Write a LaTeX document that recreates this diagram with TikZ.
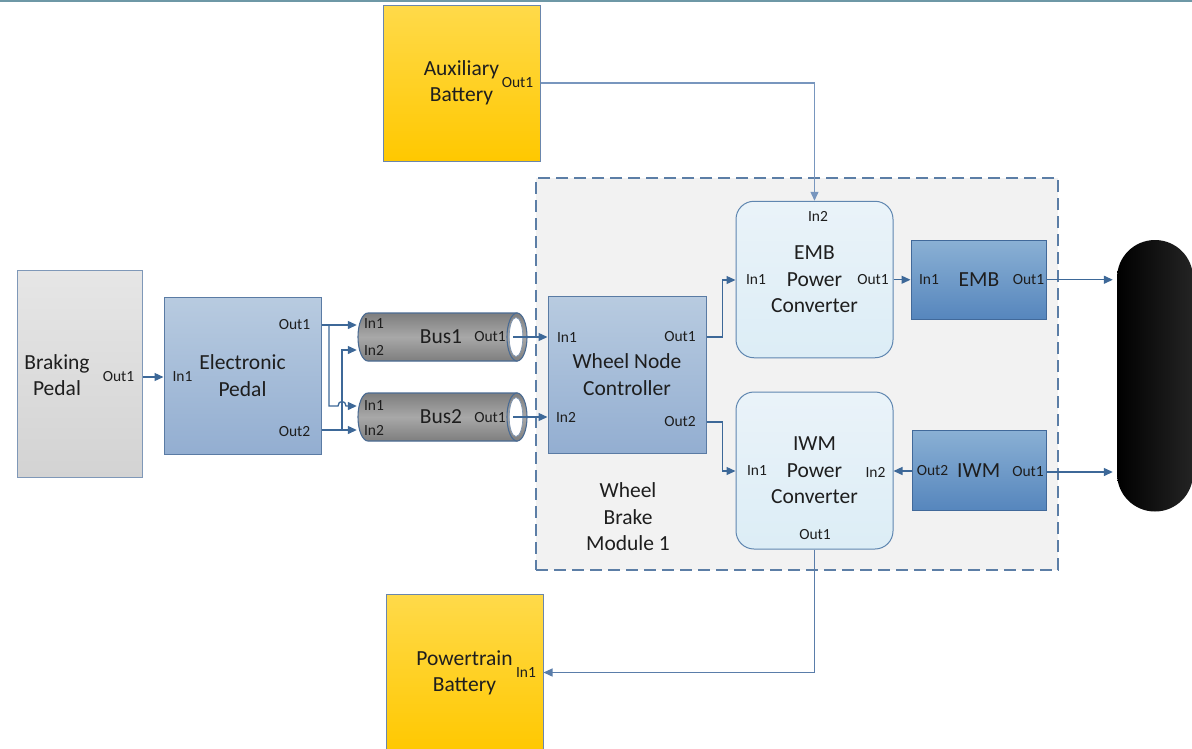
\documentclass[tikz,border=0pt]{standalone}
\usepackage{fontspec}
\setmainfont{Carlito}
\usetikzlibrary{arrows.meta,calc}
\definecolor{linec}{HTML}{3D6898}
\definecolor{linel}{HTML}{7896BE}
\definecolor{linem}{HTML}{5A7DAA}
\definecolor{txt}{HTML}{1E1E1E}
\definecolor{topline}{HTML}{6E98A6}
\definecolor{bpborder}{HTML}{7F98B8}
\definecolor{bptop}{HTML}{E6E6E6}
\definecolor{bpbot}{HTML}{D3D3D3}
\definecolor{ltborder}{HTML}{5A7BA4}
\definecolor{lttop}{HTML}{B8CBE0}
\definecolor{ltbot}{HTML}{93AED1}
\definecolor{dkborder}{HTML}{41699A}
\definecolor{dktop}{HTML}{8AB0D4}
\definecolor{dkbot}{HTML}{5686BD}
\definecolor{pcborder}{HTML}{5F86B0}
\definecolor{pctop}{HTML}{EAF3F9}
\definecolor{pcbot}{HTML}{DCEDF6}
\definecolor{battop}{HTML}{FFDA4A}
\definecolor{batbot}{HTML}{FFC800}
\definecolor{batborder}{HTML}{6A86AC}
\definecolor{modborder}{HTML}{5C7EA6}
\definecolor{modfill}{HTML}{F2F2F2}
\definecolor{busborder}{HTML}{4A6B93}
\definecolor{busdark}{HTML}{7E7E7E}
\definecolor{buslight}{HTML}{A8A8A8}
\newcommand\drawbus[2]{%
  \node[minimum width=170pt, minimum height=48pt, inner sep=0pt] (#1) at (442,#2) {};
  \path[draw=busborder, line width=1.1pt, top color=busdark, bottom color=busdark, middle color=buslight]
    (368,#2-24) -- (517,#2-24) -- (517,#2+24) -- (368,#2+24)
    .. controls (362.5,#2+24) and (358,#2+13.3) .. (358,#2)
    .. controls (358,#2-13.3) and (362.5,#2-24) .. (368,#2-24) -- cycle;
  \path[draw=busborder, line width=1.1pt, top color=busdark, bottom color=busdark, middle color=buslight]
    (517,#2) ellipse [x radius=10, y radius=24];
  \path[fill=white, draw=busborder!70, line width=0.7pt] (516,#2) ellipse [x radius=6.8, y radius=19.5];
}
\begin{document}
\begin{tikzpicture}[x=1pt, y=-1pt,
  big/.style={font=\fontsize{21.5}{26.5}\selectfont, text=txt, align=center, inner sep=0pt},
  port/.style={font=\fontsize{15.5}{18}\selectfont, text=txt, inner sep=0pt},
  conn/.style={draw=linec, line width=1.3pt, -{Triangle[length=9pt,width=8pt]}},
  ltbox/.style={draw=ltborder, line width=1pt, top color=lttop, bottom color=ltbot, inner sep=0pt},
  dkbox/.style={draw=dkborder, line width=1pt, top color=dktop, bottom color=dkbot, inner sep=0pt},
  pcbox/.style={draw=pcborder, line width=1pt, rounded corners=18pt, top color=pctop, bottom color=pcbot, inner sep=0pt},
  batbox/.style={draw=batborder, line width=1pt, top color=battop, bottom color=batbot, inner sep=0pt},
]
\useasboundingbox (0,0) rectangle (1192,748);
\fill[white] (0,0) rectangle (1192,748);
\draw[topline, line width=1.5pt] (0,0.75) -- (1192,0.75);

% module background
\node[draw=modborder, dash pattern=on 12pt off 6pt, line width=1.1pt, fill=modfill,
      minimum width=522pt, minimum height=392pt, inner sep=0pt] (mod) at (797,374) {};
\node[big] (modtxt) at (628,517) {Wheel\\Brake\\Module 1};

% braking pedal
\node[draw=bpborder, line width=1pt, top color=bptop, bottom color=bpbot, minimum width=125pt, minimum height=207pt, inner sep=0pt] (bp) at (79.5,373.5) {};
\node[big] (bptxt) at (57,375) {Braking\\Pedal};
\node[port] (bpo1) at (118.5,377) {Out1};

% electronic pedal
\node[ltbox, minimum width=157pt, minimum height=157pt, big] (ep) at (242.5,375.5) {Electronic\\Pedal};
\node[port] (epi1) at (182.5,376.5) {In1};
\node[port] (epo1) at (294.5,325) {Out1};
\node[port] (epo2) at (294.5,432) {Out2};

% buses
\drawbus{bus1}{337}
\drawbus{bus2}{417}
\node[big] (bus1txt) at (441,337) {Bus1};
\node[big] (bus2txt) at (441,417) {Bus2};
\node[port] (b1i1) at (374,324) {In1};
\node[port] (b1i2) at (374,350) {In2};
\node[port] (b1o1) at (490,337) {Out1};
\node[port] (b2i1) at (374,406) {In1};
\node[port] (b2i2) at (374,430) {In2};
\node[port] (b2o1) at (490,418) {Out1};

% wheel node controller
\node[ltbox, minimum width=158pt, minimum height=157pt, big] (wnc) at (627,374.5) {Wheel Node\\Controller};
\node[port] (wi1) at (567,338) {In1};
\node[port] (wi2) at (566,417) {In2};
\node[port] (wo1) at (680,337) {Out1};
\node[port] (wo2) at (680,422) {Out2};

% power converters
\node[pcbox, minimum width=157pt, minimum height=156.5pt, big] (embpc) at (814.5,279.5) {EMB\\Power\\Converter};
\node[port] (ei2) at (818,216) {In2};
\node[port] (ei1) at (756,280) {In1};
\node[port] (eo1) at (873,280) {Out1};
\node[pcbox, minimum width=157pt, minimum height=157pt, big] (iwmpc) at (814.5,470.5) {IWM\\Power\\Converter};
\node[port] (ii1) at (757,471) {In1};
\node[port] (ii2) at (875.5,472) {In2};
\node[port] (io1) at (815,534.5) {Out1};

% EMB and IWM
\node[dkbox, minimum width=135.5pt, minimum height=78.5pt] (emb) at (978.75,279.75) {};
\node[big] (embtxt) at (979,280) {EMB};
\node[port] (embi1) at (929,280) {In1};
\node[port] (embo1) at (1028.5,280) {Out1};
\node[dkbox, minimum width=134pt, minimum height=80pt] (iwm) at (979.7,470) {};
\node[big] (iwmtxt) at (978.7,471) {IWM};
\node[port] (iwmo2) at (932.5,471) {Out2};
\node[port] (iwmo1) at (1028,472) {Out1};

% wheel
\node[rounded corners=38pt, left color=black, right color=black!86, minimum width=76pt, minimum height=271.5pt, inner sep=0pt] (wheel) at (1155,375.75) {};

% batteries
\node[batbox, minimum width=157pt, minimum height=156pt, big] (aux) at (461.5,83) {Auxiliary\\Battery};
\node[port] (auxo1) at (517.5,83) {Out1};
\node[batbox, minimum width=157pt, minimum height=158pt, big] (pt) at (464.5,673) {Powertrain\\Battery};
\node[port] (pti1) at (526,672.5) {In1};

% junctions
\coordinate (ja) at (329,325);
\coordinate (jb) at (342,430);
\coordinate (h1) at (338,406);
\coordinate (h2) at (346,406);

% connectors
\draw[conn] (bp.east |- bpo1) -- (ep.west |- bpo1);
\draw[conn] (ep.east |- ja) -- (bus1.west |- ja);
\draw[conn] (ep.east |- jb) -- (bus2.west |- jb);
\draw[conn] (ja) |- (h1) .. controls ($(h1)+(0,-6)$) and ($(h2)+(0,-6)$) .. (h2) -- (bus2.west |- h2);
\draw[conn] (jb) |- (bus1.west |- b1i2);
\draw[conn] ($(bus1.east)+(-14,0)$) -- (wnc.west |- bus1.east);
\draw[conn] ($(bus2.east)+(-14,0)$) -- (wnc.west |- bus2.east);
\draw[conn] (wnc.east |- wo1) -- ++(16,0) |- (embpc.west |- ei1);
\draw[conn] (wnc.east |- wo2) -- ++(16,0) |- (iwmpc.west |- ii1);
\draw[conn] (embpc.east |- emb.west) -- (emb.west);
\draw[conn, shorten >=4pt] (emb.east) -- (wheel.west |- emb.east);
\draw[conn, shorten >=4pt] (iwm.east |- iwmo1) -- (wheel.west |- iwmo1);
\draw[conn] (iwm.west |- iwmo2) -- (iwmpc.east |- iwmo2);
\draw[conn, draw=linel] (aux.east |- auxo1) -| (embpc.north);
\draw[conn, draw=linem] (iwmpc.south) |- (pt.east |- pti1);
\end{tikzpicture}
\end{document}
